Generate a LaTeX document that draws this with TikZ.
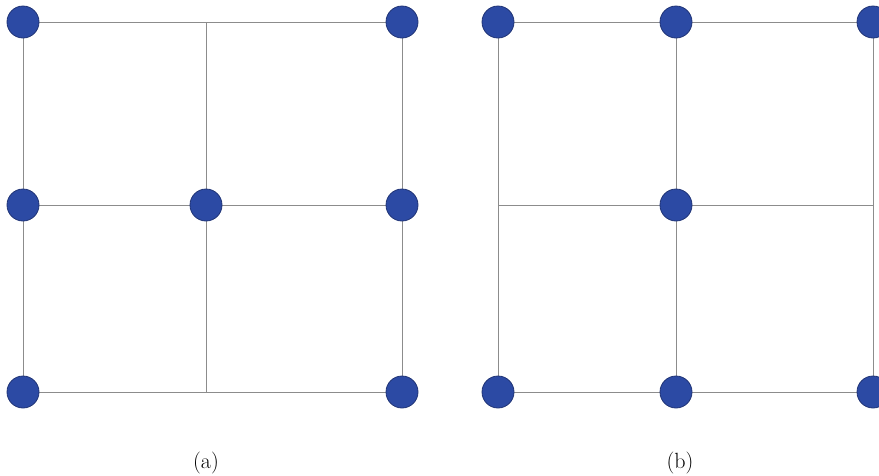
\documentclass[tikz,border=0pt]{standalone}
\usepackage{fontspec}
\definecolor{dotblue}{RGB}{44,74,164}
\definecolor{dotedge}{RGB}{32,52,118}
\definecolor{gridgray}{RGB}{140,140,140}
\begin{document}
\begin{tikzpicture}[x=1pt,y=-1pt,
  vertex/.style={circle, fill=dotblue, draw=dotedge, line width=0.8pt, minimum size=32pt, inner sep=0pt},
  edge/.style={draw=gridgray, line width=0.9pt},
  caption/.style={font=\fontsize{22}{26}\selectfont}]
\useasboundingbox (0,0) rectangle (879,475);
\clip (0,0) rectangle (879,475);
% (a)
\coordinate (a1) at (23,22);
\coordinate (a2) at (206,22);
\coordinate (a3) at (402,22);
\coordinate (a4) at (23,205);
\coordinate (a5) at (206,205);
\coordinate (a6) at (402,205);
\coordinate (a7) at (23,392);
\coordinate (a8) at (206,392);
\coordinate (a9) at (402,392);
\draw[edge] (a1) -- (a3) -- (a9) -- (a7) -- cycle;
\draw[edge] (a2) -- (a8);
\draw[edge] (a4) -- (a6);
\foreach \n in {a1,a3,a4,a5,a6,a7,a9}
  \node[vertex] at (\n) {};
\node[caption] (la) at (206,463) {(a)};
% (b)
\coordinate (b1) at (498,22);
\coordinate (b2) at (676,22);
\coordinate (b3) at (873,22);
\coordinate (b4) at (498,205);
\coordinate (b5) at (676,205);
\coordinate (b6) at (873,205);
\coordinate (b7) at (498,392);
\coordinate (b8) at (676,392);
\coordinate (b9) at (873,392);
\draw[edge] (b1) -- (b3) -- (b9) -- (b7) -- cycle;
\draw[edge] (b2) -- (b8);
\draw[edge] (b4) -- (b6);
\foreach \n in {b1,b2,b3,b5,b7,b8,b9}
  \node[vertex] at (\n) {};
\node[caption] (lb) at (680,463) {(b)};
\end{tikzpicture}
\end{document}
